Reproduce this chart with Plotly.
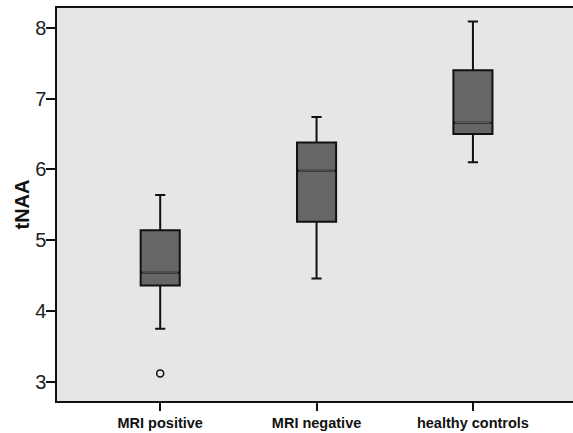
import plotly.graph_objects as go

categories = ["MRI positive", "MRI negative", "healthy controls"]
q1 = [4.36, 5.26, 6.50]
median = [4.54, 5.98, 6.66]
q3 = [5.14, 6.38, 7.40]
lower_whisker = [3.75, 4.46, 6.10]
upper_whisker = [5.64, 6.74, 8.09]
outlier_cat = ["MRI positive"]
outlier_val = [3.12]
y_ticks = [3, 4, 5, 6, 7, 8]

box_width = 0.25

fig = go.Figure()
fig.add_trace(go.Box(
    x=categories, q1=q1, median=median, q3=q3,
    lowerfence=lower_whisker, upperfence=upper_whisker,
    width=box_width, whiskerwidth=0.26,
    fillcolor="#666666", line=dict(color="#111111", width=2),
    boxpoints=False, showlegend=False, hoverinfo="skip",
))
fig.add_trace(go.Scatter(
    x=outlier_cat, y=outlier_val, mode="markers",
    marker=dict(symbol="circle-open", size=7, color="#111111", line=dict(width=1.5)),
    showlegend=False,
))

# faint median lines as in the reference
for i, m in enumerate(median):
    fig.add_shape(type="line", xref="x", yref="y",
                  x0=i - box_width / 2 + 0.012, x1=i + box_width / 2 - 0.012,
                  y0=m, y1=m, line=dict(color="#6e6e6e", width=1))

fig.add_annotation(text="<b>tNAA</b>", xref="paper", yref="paper", x=0, y=0.5,
                   xanchor="center", yanchor="middle",
                   xshift=-36, textangle=-90, showarrow=False,
                   font=dict(size=20, color="#111111"))

fig.update_layout(
    width=573, height=433,
    margin=dict(l=57, r=0, t=8, b=32, autoexpand=False),
    paper_bgcolor="white", plot_bgcolor="#e6e6e6",
    font=dict(family="Liberation Sans, Arial, sans-serif", color="#111111"),
)
fig.update_xaxes(
    type="category", categoryorder="array", categoryarray=categories,
    range=[-0.66, 2.64], automargin=False,
    showline=True, linecolor="#111111", linewidth=1.5, mirror=True,
    ticks="outside", ticklen=8, tickcolor="#111111", tickwidth=1.5,
    tickfont=dict(size=14.5, family="Liberation Sans, Arial, sans-serif", weight="bold"),
    showgrid=False, zeroline=False,
)
fig.update_yaxes(
    range=[2.73, 8.28], tickvals=y_ticks, automargin=False,
    showline=True, linecolor="#111111", linewidth=1.5,
    ticks="outside", ticklen=9, tickcolor="#111111", tickwidth=1.5,
    ticklabelstandoff=-4,
    tickfont=dict(size=20, color="#222222"),
    showgrid=False, zeroline=False,
)

fig.write_html("out.html", config={"displayModeBar": False},
               post_script="document.body.style.margin='0';document.body.style.overflow='hidden';")
